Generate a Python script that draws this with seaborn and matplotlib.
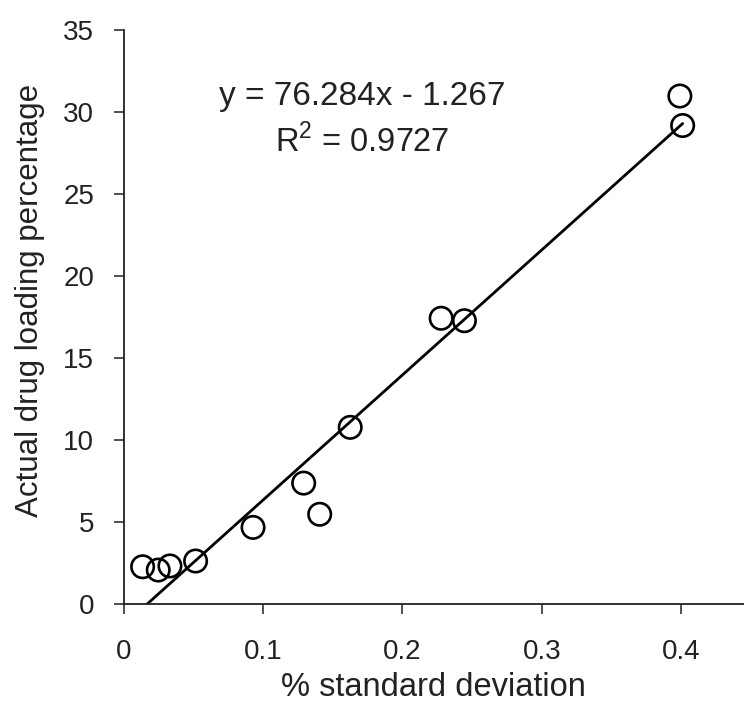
import matplotlib
matplotlib.use("Agg")
import matplotlib.pyplot as plt
import seaborn as sns
import numpy as np
import pandas as pd

# Data
std_dev = [0.0137, 0.0249, 0.0333, 0.0517, 0.0929, 0.1292, 0.1407, 0.1626,
           0.2278, 0.2445, 0.3990, 0.4010]
drug_loading = [2.3, 2.1, 2.35, 2.65, 4.7, 7.4, 5.5, 10.8,
                17.45, 17.3, 31.0, 29.2]
slope = 76.284
intercept = -1.267
r_squared = 0.9727
x_ticks = [0, 0.1, 0.2, 0.3, 0.4]
x_tick_labels = ["0", "0.1", "0.2", "0.3", "0.4"]
y_ticks = [0, 5, 10, 15, 20, 25, 30, 35]

df = pd.DataFrame({"x": std_dev, "y": drug_loading})

sns.set_style("white")
plt.rcParams['font.family'] = ['Liberation Sans', 'DejaVu Sans']
plt.rcParams['mathtext.fontset'] = 'custom'
plt.rcParams['mathtext.rm'] = 'Liberation Sans'

fig = plt.figure(figsize=(7.44, 7.07), dpi=100)
ax = fig.add_axes([0.166, 0.145, 0.834, 0.812])

# fitted trend line
x0 = -intercept / slope
x1 = max(std_dev)
line_x = np.array([x0, x1])
ax.plot(line_x, slope * line_x + intercept, color="black", lw=2.0, zorder=2)

sns.scatterplot(data=df, x="x", y="y", ax=ax, s=260, marker="o",
                facecolors="none", edgecolor="black", linewidth=1.9, zorder=3)

ax.set_xlim(0, 0.445)
ax.set_ylim(0, 35)
ax.set_xticks(x_ticks)
ax.set_xticklabels(x_tick_labels)
ax.set_yticks(y_ticks)
ax.tick_params(axis="both", which="major", left=True, bottom=True,
               labelsize=20, labelcolor="#222222", color="#333333",
               length=7, width=1.2, direction="out")
ax.tick_params(axis="x", pad=18)
ax.tick_params(axis="y", pad=14)
for s in ["top", "right"]:
    ax.spines[s].set_visible(False)
for s in ["left", "bottom"]:
    ax.spines[s].set_color("#222222")
    ax.spines[s].set_linewidth(1.3)

ax.set_xlabel("% standard deviation", fontsize=23.5, color="#222222", labelpad=5)
ax.set_ylabel("Actual drug loading percentage", fontsize=22.5, color="#222222")
ax.yaxis.set_label_coords(-0.127, 0.53)

ax.text(0.385, 0.884, f"y = {slope}x - {abs(intercept)}", transform=ax.transAxes,
        ha="center", va="center", fontsize=24, color="#222222")
ax.text(0.385, 0.807, "R$^{2}$ = " + f"{r_squared}", transform=ax.transAxes,
        ha="center", va="center", fontsize=23.5, color="#222222")

fig.savefig("out.png", dpi=100)
